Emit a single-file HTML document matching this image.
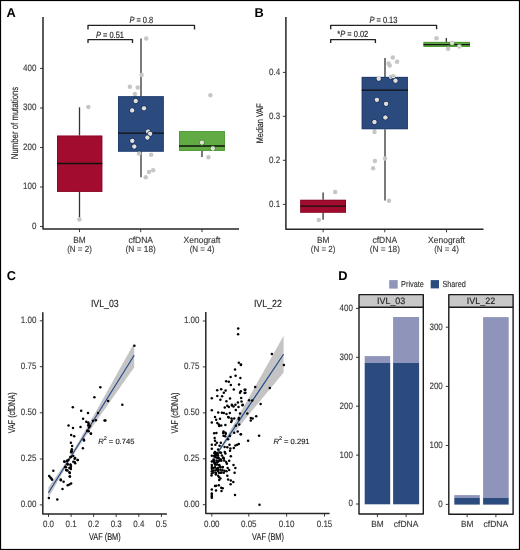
<!DOCTYPE html>
<html><head><meta charset="utf-8"><style>
html,body{margin:0;padding:0;background:#fff;}
svg{display:block;will-change:transform;font-family:"Liberation Sans", sans-serif;text-rendering:geometricPrecision;}
text{stroke-width:0.14px;}
</style></head><body>
<svg width="520" height="550" viewBox="0 0 520 550">
<rect x="0" y="0" width="520" height="550" fill="#fff"/>
<text x="6.6" y="17" font-size="12.8" fill="#000" text-anchor="start" font-weight="bold">A</text>
<text x="254.6" y="17" font-size="12.8" fill="#000" text-anchor="start" font-weight="bold">B</text>
<text x="6.8" y="279.7" font-size="12.8" fill="#000" text-anchor="start" font-weight="bold">C</text>
<text x="338.2" y="279.8" font-size="12.8" fill="#000" text-anchor="start" font-weight="bold">D</text>
<line x1="79.5" y1="107.3" x2="79.5" y2="135.6" stroke="#333" stroke-width="1.3"/>
<line x1="79.5" y1="191.9" x2="79.5" y2="217.5" stroke="#333" stroke-width="1.3"/>
<rect x="57.00" y="135.60" width="45.30" height="56.30" fill="#a20c2e"/>
<rect x="57.45" y="136.05" width="44.40" height="55.40" fill="none" stroke="#76061c" stroke-width="0.9" opacity="0.6"/>
<line x1="57" y1="163.5" x2="102.3" y2="163.5" stroke="#111" stroke-width="1.3"/>
<line x1="141.0" y1="38.6" x2="141.0" y2="96.2" stroke="#333" stroke-width="1.3"/>
<line x1="141.0" y1="151.7" x2="141.0" y2="177.3" stroke="#333" stroke-width="1.3"/>
<rect x="118.00" y="96.20" width="45.80" height="55.50" fill="#2b4a7e"/>
<rect x="118.45" y="96.65" width="44.90" height="54.60" fill="none" stroke="#1c3464" stroke-width="0.9" opacity="0.6"/>
<line x1="118" y1="133.2" x2="163.8" y2="133.2" stroke="#111" stroke-width="1.3"/>
<line x1="202.0" y1="150.9" x2="202.0" y2="156.9" stroke="#333" stroke-width="1.3"/>
<rect x="179.00" y="131.10" width="45.90" height="19.80" fill="#62aa44"/>
<rect x="179.45" y="131.55" width="45.00" height="18.90" fill="none" stroke="#3f8a2a" stroke-width="0.9" opacity="0.6"/>
<line x1="179" y1="146.0" x2="224.9" y2="146.0" stroke="#111" stroke-width="1.3"/>
<circle cx="88.40" cy="106.90" r="2.25" fill="#c6c6c6"/>
<circle cx="79.40" cy="219.60" r="2.25" fill="#c6c6c6"/>
<circle cx="146.25" cy="38.40" r="2.25" fill="#c6c6c6"/>
<circle cx="141.60" cy="75.00" r="2.25" fill="#c6c6c6"/>
<circle cx="129.90" cy="86.70" r="2.25" fill="#c6c6c6"/>
<circle cx="137.70" cy="87.40" r="2.25" fill="#c6c6c6"/>
<circle cx="134.90" cy="93.90" r="2.25" fill="#c6c6c6"/>
<circle cx="135.70" cy="101.10" r="2.25" fill="#c6c6c6"/>
<circle cx="144.00" cy="108.30" r="2.25" fill="#c6c6c6"/>
<circle cx="132.20" cy="110.40" r="2.25" fill="#c6c6c6"/>
<circle cx="148.10" cy="131.50" r="2.25" fill="#c6c6c6"/>
<circle cx="150.10" cy="133.80" r="2.25" fill="#c6c6c6"/>
<circle cx="147.40" cy="137.60" r="2.25" fill="#c6c6c6"/>
<circle cx="132.30" cy="140.80" r="2.25" fill="#c6c6c6"/>
<circle cx="134.30" cy="146.60" r="2.25" fill="#c6c6c6"/>
<circle cx="139.05" cy="153.50" r="2.25" fill="#c6c6c6"/>
<circle cx="151.20" cy="154.80" r="2.25" fill="#c6c6c6"/>
<circle cx="153.20" cy="170.30" r="2.25" fill="#c6c6c6"/>
<circle cx="149.00" cy="171.90" r="2.25" fill="#c6c6c6"/>
<circle cx="145.80" cy="177.30" r="2.25" fill="#c6c6c6"/>
<circle cx="210.40" cy="95.20" r="2.25" fill="#c6c6c6"/>
<circle cx="201.90" cy="142.60" r="2.25" fill="#c6c6c6"/>
<circle cx="212.80" cy="148.60" r="2.25" fill="#c6c6c6"/>
<circle cx="208.40" cy="157.30" r="2.25" fill="#c6c6c6"/>
<clipPath id="cb1"><rect x="118" y="96.2" width="45.80000000000001" height="55.499999999999986"/></clipPath>
<g clip-path="url(#cb1)">
<circle cx="134.90" cy="93.90" r="2.55" fill="none" stroke="#1c3464" stroke-width="0.9"/>
<circle cx="134.90" cy="93.90" r="2.1" fill="#e2dfd8"/>
<circle cx="135.70" cy="101.10" r="2.55" fill="none" stroke="#1c3464" stroke-width="0.9"/>
<circle cx="135.70" cy="101.10" r="2.1" fill="#e2dfd8"/>
<circle cx="144.00" cy="108.30" r="2.55" fill="none" stroke="#1c3464" stroke-width="0.9"/>
<circle cx="144.00" cy="108.30" r="2.1" fill="#e2dfd8"/>
<circle cx="132.20" cy="110.40" r="2.55" fill="none" stroke="#1c3464" stroke-width="0.9"/>
<circle cx="132.20" cy="110.40" r="2.1" fill="#e2dfd8"/>
<circle cx="148.10" cy="131.50" r="2.55" fill="none" stroke="#1c3464" stroke-width="0.9"/>
<circle cx="148.10" cy="131.50" r="2.1" fill="#e2dfd8"/>
<circle cx="150.10" cy="133.80" r="2.55" fill="none" stroke="#1c3464" stroke-width="0.9"/>
<circle cx="150.10" cy="133.80" r="2.1" fill="#e2dfd8"/>
<circle cx="147.40" cy="137.60" r="2.55" fill="none" stroke="#1c3464" stroke-width="0.9"/>
<circle cx="147.40" cy="137.60" r="2.1" fill="#e2dfd8"/>
<circle cx="132.30" cy="140.80" r="2.55" fill="none" stroke="#1c3464" stroke-width="0.9"/>
<circle cx="132.30" cy="140.80" r="2.1" fill="#e2dfd8"/>
<circle cx="134.30" cy="146.60" r="2.55" fill="none" stroke="#1c3464" stroke-width="0.9"/>
<circle cx="134.30" cy="146.60" r="2.1" fill="#e2dfd8"/>
<circle cx="139.05" cy="153.50" r="2.55" fill="none" stroke="#1c3464" stroke-width="0.9"/>
<circle cx="139.05" cy="153.50" r="2.1" fill="#e2dfd8"/>
</g>
<clipPath id="cb2"><rect x="179" y="131.1" width="45.900000000000006" height="19.80000000000001"/></clipPath>
<g clip-path="url(#cb2)">
<circle cx="201.90" cy="142.60" r="2.55" fill="none" stroke="#3f8a2a" stroke-width="0.9"/>
<circle cx="201.90" cy="142.60" r="2.1" fill="#e2dfd8"/>
<circle cx="212.80" cy="148.60" r="2.55" fill="none" stroke="#3f8a2a" stroke-width="0.9"/>
<circle cx="212.80" cy="148.60" r="2.1" fill="#e2dfd8"/>
</g>
<path d="M43,17 V229.05 H239" fill="none" stroke="#262626" stroke-width="1.5" stroke-linejoin="round"/>
<line x1="40" y1="226.5" x2="43" y2="226.5" stroke="#222" stroke-width="0.9"/>
<text x="36.4" y="228.95" font-size="9.4" fill="#3a3a3a" stroke="#3a3a3a" text-anchor="end" textLength="4.45" lengthAdjust="spacingAndGlyphs">0</text>
<line x1="40" y1="187.0" x2="43" y2="187.0" stroke="#222" stroke-width="0.9"/>
<text x="36.4" y="189.45" font-size="9.4" fill="#3a3a3a" stroke="#3a3a3a" text-anchor="end" textLength="13.35" lengthAdjust="spacingAndGlyphs">100</text>
<line x1="40" y1="147.5" x2="43" y2="147.5" stroke="#222" stroke-width="0.9"/>
<text x="36.4" y="149.95" font-size="9.4" fill="#3a3a3a" stroke="#3a3a3a" text-anchor="end" textLength="13.35" lengthAdjust="spacingAndGlyphs">200</text>
<line x1="40" y1="108.0" x2="43" y2="108.0" stroke="#222" stroke-width="0.9"/>
<text x="36.4" y="110.45" font-size="9.4" fill="#3a3a3a" stroke="#3a3a3a" text-anchor="end" textLength="13.35" lengthAdjust="spacingAndGlyphs">300</text>
<line x1="40" y1="68.4" x2="43" y2="68.4" stroke="#222" stroke-width="0.9"/>
<text x="36.4" y="70.85000000000001" font-size="9.4" fill="#3a3a3a" stroke="#3a3a3a" text-anchor="end" textLength="13.35" lengthAdjust="spacingAndGlyphs">400</text>
<line x1="79.5" y1="229.1" x2="79.5" y2="232.1" stroke="#222" stroke-width="0.9"/>
<text x="79.5" y="242.7" font-size="8.9" fill="#3a3a3a" stroke="#3a3a3a" text-anchor="middle" textLength="12.45" lengthAdjust="spacingAndGlyphs">BM</text>
<text x="79.5" y="251.5" font-size="8.9" fill="#3a3a3a" stroke="#3a3a3a" text-anchor="middle" textLength="24.67" lengthAdjust="spacingAndGlyphs">(N = 2)</text>
<line x1="140.7" y1="229.1" x2="140.7" y2="232.1" stroke="#222" stroke-width="0.9"/>
<text x="140.7" y="242.7" font-size="8.9" fill="#3a3a3a" stroke="#3a3a3a" text-anchor="middle" textLength="24.56" lengthAdjust="spacingAndGlyphs">cfDNA</text>
<text x="140.7" y="251.5" font-size="8.9" fill="#3a3a3a" stroke="#3a3a3a" text-anchor="middle" textLength="30.21" lengthAdjust="spacingAndGlyphs">(N = 18)</text>
<line x1="202.0" y1="229.1" x2="202.0" y2="232.1" stroke="#222" stroke-width="0.9"/>
<text x="202.0" y="242.7" font-size="8.9" fill="#3a3a3a" stroke="#3a3a3a" text-anchor="middle" textLength="36.8" lengthAdjust="spacingAndGlyphs">Xenograft</text>
<text x="202.0" y="251.5" font-size="8.9" fill="#3a3a3a" stroke="#3a3a3a" text-anchor="middle" textLength="24.67" lengthAdjust="spacingAndGlyphs">(N = 4)</text>
<path d="M88.0,43.1 V39.6 H132.5 V43.1" fill="none" stroke="#222" stroke-width="1.35" stroke-linejoin="round"/>
<path d="M88.0,29.4 V25.4 H194.5 V29.4" fill="none" stroke="#222" stroke-width="1.35" stroke-linejoin="round"/>
<text x="110" y="37.6" font-size="9" fill="#222" stroke="#222" text-anchor="middle" textLength="28.01" lengthAdjust="spacingAndGlyphs"><tspan font-style="italic">P</tspan> = 0.51</text>
<text x="141.3" y="23.2" font-size="9" fill="#222" stroke="#222" text-anchor="middle" textLength="23.84" lengthAdjust="spacingAndGlyphs"><tspan font-style="italic">P</tspan> = 0.8</text>
<text transform="translate(17.7,123) rotate(-90)" font-size="9.9" fill="#222" stroke="#222" stroke-width="0.1" text-anchor="middle" textLength="72.5" lengthAdjust="spacingAndGlyphs">Number of mutations</text>
<line x1="323.1" y1="192.5" x2="323.1" y2="199.8" stroke="#333" stroke-width="1.3"/>
<line x1="323.1" y1="212.7" x2="323.1" y2="219.7" stroke="#333" stroke-width="1.3"/>
<rect x="300.20" y="199.80" width="45.80" height="12.90" fill="#a20c2e"/>
<rect x="300.65" y="200.25" width="44.90" height="12.00" fill="none" stroke="#76061c" stroke-width="0.9" opacity="0.6"/>
<line x1="300.2" y1="206.2" x2="346" y2="206.2" stroke="#111" stroke-width="1.3"/>
<line x1="385.0" y1="58.1" x2="385.0" y2="76.9" stroke="#333" stroke-width="1.3"/>
<line x1="385.0" y1="129.2" x2="385.0" y2="200.5" stroke="#333" stroke-width="1.3"/>
<rect x="361.70" y="76.90" width="46.20" height="52.30" fill="#2b4a7e"/>
<rect x="362.15" y="77.35" width="45.30" height="51.40" fill="none" stroke="#1c3464" stroke-width="0.9" opacity="0.6"/>
<line x1="361.7" y1="90.1" x2="407.9" y2="90.1" stroke="#111" stroke-width="1.3"/>
<line x1="446.3" y1="37.9" x2="446.3" y2="41.9" stroke="#333" stroke-width="1.3"/>
<rect x="423.50" y="41.90" width="46.40" height="5.00" fill="#62aa44"/>
<rect x="423.95" y="42.35" width="45.50" height="4.10" fill="none" stroke="#3f8a2a" stroke-width="0.9" opacity="0.6"/>
<line x1="423.5" y1="44.6" x2="469.9" y2="44.6" stroke="#111" stroke-width="1.3"/>
<circle cx="335.20" cy="192.10" r="2.25" fill="#c6c6c6"/>
<circle cx="318.80" cy="220.00" r="2.25" fill="#c6c6c6"/>
<circle cx="392.80" cy="57.40" r="2.25" fill="#c6c6c6"/>
<circle cx="397.10" cy="61.80" r="2.25" fill="#c6c6c6"/>
<circle cx="388.60" cy="63.50" r="2.25" fill="#c6c6c6"/>
<circle cx="389.70" cy="65.50" r="2.25" fill="#c6c6c6"/>
<circle cx="391.00" cy="76.90" r="2.25" fill="#c6c6c6"/>
<circle cx="393.30" cy="76.20" r="2.25" fill="#c6c6c6"/>
<circle cx="378.70" cy="78.70" r="2.25" fill="#c6c6c6"/>
<circle cx="395.50" cy="80.70" r="2.25" fill="#c6c6c6"/>
<circle cx="376.90" cy="99.80" r="2.25" fill="#c6c6c6"/>
<circle cx="386.10" cy="103.80" r="2.25" fill="#c6c6c6"/>
<circle cx="385.40" cy="117.50" r="2.25" fill="#c6c6c6"/>
<circle cx="374.50" cy="122.10" r="2.25" fill="#c6c6c6"/>
<circle cx="374.50" cy="131.90" r="2.25" fill="#c6c6c6"/>
<circle cx="385.00" cy="158.50" r="2.25" fill="#c6c6c6"/>
<circle cx="374.90" cy="161.10" r="2.25" fill="#c6c6c6"/>
<circle cx="373.10" cy="168.30" r="2.25" fill="#c6c6c6"/>
<circle cx="389.00" cy="200.70" r="2.25" fill="#c6c6c6"/>
<circle cx="436.50" cy="38.20" r="2.25" fill="#c6c6c6"/>
<circle cx="452.10" cy="42.90" r="2.25" fill="#c6c6c6"/>
<circle cx="448.10" cy="48.70" r="2.25" fill="#c6c6c6"/>
<circle cx="459.40" cy="46.50" r="2.25" fill="#c6c6c6"/>
<clipPath id="cb3"><rect x="361.7" y="76.9" width="46.19999999999999" height="52.29999999999998"/></clipPath>
<g clip-path="url(#cb3)">
<circle cx="391.00" cy="76.90" r="2.55" fill="none" stroke="#1c3464" stroke-width="0.9"/>
<circle cx="391.00" cy="76.90" r="2.1" fill="#e2dfd8"/>
<circle cx="393.30" cy="76.20" r="2.55" fill="none" stroke="#1c3464" stroke-width="0.9"/>
<circle cx="393.30" cy="76.20" r="2.1" fill="#e2dfd8"/>
<circle cx="378.70" cy="78.70" r="2.55" fill="none" stroke="#1c3464" stroke-width="0.9"/>
<circle cx="378.70" cy="78.70" r="2.1" fill="#e2dfd8"/>
<circle cx="395.50" cy="80.70" r="2.55" fill="none" stroke="#1c3464" stroke-width="0.9"/>
<circle cx="395.50" cy="80.70" r="2.1" fill="#e2dfd8"/>
<circle cx="376.90" cy="99.80" r="2.55" fill="none" stroke="#1c3464" stroke-width="0.9"/>
<circle cx="376.90" cy="99.80" r="2.1" fill="#e2dfd8"/>
<circle cx="386.10" cy="103.80" r="2.55" fill="none" stroke="#1c3464" stroke-width="0.9"/>
<circle cx="386.10" cy="103.80" r="2.1" fill="#e2dfd8"/>
<circle cx="385.40" cy="117.50" r="2.55" fill="none" stroke="#1c3464" stroke-width="0.9"/>
<circle cx="385.40" cy="117.50" r="2.1" fill="#e2dfd8"/>
<circle cx="374.50" cy="122.10" r="2.55" fill="none" stroke="#1c3464" stroke-width="0.9"/>
<circle cx="374.50" cy="122.10" r="2.1" fill="#e2dfd8"/>
<circle cx="374.50" cy="131.90" r="2.55" fill="none" stroke="#1c3464" stroke-width="0.9"/>
<circle cx="374.50" cy="131.90" r="2.1" fill="#e2dfd8"/>
</g>
<clipPath id="cb4"><rect x="423.5" y="41.9" width="46.39999999999998" height="5.0"/></clipPath>
<g clip-path="url(#cb4)">
<circle cx="452.10" cy="42.90" r="2.55" fill="none" stroke="#3f8a2a" stroke-width="0.9"/>
<circle cx="452.10" cy="42.90" r="2.1" fill="#e2dfd8"/>
<circle cx="448.10" cy="48.70" r="2.55" fill="none" stroke="#3f8a2a" stroke-width="0.9"/>
<circle cx="448.10" cy="48.70" r="2.1" fill="#e2dfd8"/>
<circle cx="459.40" cy="46.50" r="2.55" fill="none" stroke="#3f8a2a" stroke-width="0.9"/>
<circle cx="459.40" cy="46.50" r="2.1" fill="#e2dfd8"/>
</g>
<path d="M285.9,17.1 V229.3 H483.5" fill="none" stroke="#262626" stroke-width="1.5" stroke-linejoin="round"/>
<line x1="282.9" y1="204.4" x2="285.9" y2="204.4" stroke="#222" stroke-width="0.9"/>
<text x="280.1" y="206.85" font-size="9.4" fill="#3a3a3a" stroke="#3a3a3a" text-anchor="end" textLength="11.12" lengthAdjust="spacingAndGlyphs">0.1</text>
<line x1="282.9" y1="160.3" x2="285.9" y2="160.3" stroke="#222" stroke-width="0.9"/>
<text x="280.1" y="162.75" font-size="9.4" fill="#3a3a3a" stroke="#3a3a3a" text-anchor="end" textLength="11.12" lengthAdjust="spacingAndGlyphs">0.2</text>
<line x1="282.9" y1="116.3" x2="285.9" y2="116.3" stroke="#222" stroke-width="0.9"/>
<text x="280.1" y="118.75" font-size="9.4" fill="#3a3a3a" stroke="#3a3a3a" text-anchor="end" textLength="11.12" lengthAdjust="spacingAndGlyphs">0.3</text>
<line x1="282.9" y1="72.4" x2="285.9" y2="72.4" stroke="#222" stroke-width="0.9"/>
<text x="280.1" y="74.85000000000001" font-size="9.4" fill="#3a3a3a" stroke="#3a3a3a" text-anchor="end" textLength="11.12" lengthAdjust="spacingAndGlyphs">0.4</text>
<line x1="323.1" y1="229.3" x2="323.1" y2="232.3" stroke="#222" stroke-width="0.9"/>
<text x="323.1" y="242.7" font-size="8.9" fill="#3a3a3a" stroke="#3a3a3a" text-anchor="middle" textLength="12.45" lengthAdjust="spacingAndGlyphs">BM</text>
<text x="323.1" y="251.5" font-size="8.9" fill="#3a3a3a" stroke="#3a3a3a" text-anchor="middle" textLength="24.67" lengthAdjust="spacingAndGlyphs">(N = 2)</text>
<line x1="384.8" y1="229.3" x2="384.8" y2="232.3" stroke="#222" stroke-width="0.9"/>
<text x="384.8" y="242.7" font-size="8.9" fill="#3a3a3a" stroke="#3a3a3a" text-anchor="middle" textLength="24.56" lengthAdjust="spacingAndGlyphs">cfDNA</text>
<text x="384.8" y="251.5" font-size="8.9" fill="#3a3a3a" stroke="#3a3a3a" text-anchor="middle" textLength="30.21" lengthAdjust="spacingAndGlyphs">(N = 18)</text>
<line x1="446.5" y1="229.3" x2="446.5" y2="232.3" stroke="#222" stroke-width="0.9"/>
<text x="446.5" y="242.7" font-size="8.9" fill="#3a3a3a" stroke="#3a3a3a" text-anchor="middle" textLength="36.8" lengthAdjust="spacingAndGlyphs">Xenograft</text>
<text x="446.5" y="251.5" font-size="8.9" fill="#3a3a3a" stroke="#3a3a3a" text-anchor="middle" textLength="24.67" lengthAdjust="spacingAndGlyphs">(N = 4)</text>
<path d="M330.7,43.1 V39.6 H375.4 V43.1" fill="none" stroke="#222" stroke-width="1.35" stroke-linejoin="round"/>
<path d="M330.7,29.3 V25.3 H436.6 V29.3" fill="none" stroke="#222" stroke-width="1.35" stroke-linejoin="round"/>
<text x="352.8" y="36.9" font-size="9" fill="#222" stroke="#222" text-anchor="middle" textLength="30.93" lengthAdjust="spacingAndGlyphs">*<tspan font-style="italic">P</tspan> = 0.02</text>
<text x="383.4" y="23.1" font-size="9" fill="#222" stroke="#222" text-anchor="middle" textLength="28.01" lengthAdjust="spacingAndGlyphs"><tspan font-style="italic">P</tspan> = 0.13</text>
<text transform="translate(263.4,123.3) rotate(-90)" font-size="9.5" fill="#222" stroke="#222" stroke-width="0.1" text-anchor="middle" textLength="40" lengthAdjust="spacingAndGlyphs">Median VAF</text>
<path d="M48.40,487.60 L49.83,485.55 L51.26,483.50 L52.69,481.45 L54.12,479.39 L55.55,477.32 L56.98,475.25 L58.41,473.17 L59.84,471.08 L61.27,468.98 L62.70,466.87 L64.13,464.74 L65.56,462.59 L66.99,460.41 L68.42,458.22 L69.85,455.99 L71.28,453.73 L72.71,451.44 L74.14,449.11 L75.57,446.76 L77.00,444.37 L78.43,441.96 L79.86,439.53 L81.29,437.08 L82.72,434.61 L84.15,432.12 L85.58,429.63 L87.01,427.13 L88.44,424.61 L89.87,422.10 L91.30,419.57 L92.73,417.04 L94.16,414.51 L95.59,411.97 L97.02,409.43 L98.45,406.89 L99.88,404.35 L101.31,401.80 L102.74,399.25 L104.17,396.70 L105.60,394.15 L107.03,391.60 L108.46,389.05 L109.89,386.49 L111.32,383.94 L112.75,381.38 L114.18,378.82 L115.61,376.27 L117.04,373.71 L118.47,371.15 L119.90,368.59 L121.33,366.03 L122.76,363.47 L124.19,360.91 L125.62,358.35 L127.05,355.79 L128.48,353.23 L129.91,350.66 L131.34,348.10 L132.77,345.54 L134.20,342.98 L134.20,367.42 L132.77,369.44 L131.34,371.46 L129.91,373.49 L128.48,375.51 L127.05,377.53 L125.62,379.55 L124.19,381.57 L122.76,383.60 L121.33,385.62 L119.90,387.64 L118.47,389.67 L117.04,391.69 L115.61,393.72 L114.18,395.74 L112.75,397.77 L111.32,399.80 L109.89,401.82 L108.46,403.85 L107.03,405.88 L105.60,407.91 L104.17,409.95 L102.74,411.98 L101.31,414.01 L99.88,416.05 L98.45,418.09 L97.02,420.13 L95.59,422.18 L94.16,424.22 L92.73,426.27 L91.30,428.33 L89.87,430.39 L88.44,432.45 L87.01,434.52 L85.58,436.60 L84.15,438.69 L82.72,440.79 L81.29,442.91 L79.86,445.04 L78.43,447.19 L77.00,449.36 L75.57,451.56 L74.14,453.79 L72.71,456.05 L71.28,458.34 L69.85,460.66 L68.42,463.02 L66.99,465.40 L65.56,467.81 L64.13,470.25 L62.70,472.70 L61.27,475.17 L59.84,477.65 L58.41,480.15 L56.98,482.65 L55.55,485.16 L54.12,487.68 L52.69,490.20 L51.26,492.73 L49.83,495.27 L48.40,497.80 Z" fill="#c4c4c4"/>
<line x1="48.4" y1="492.7" x2="134.2" y2="355.2" stroke="#24468c" stroke-width="1.15"/>
<circle cx="48.90" cy="497.90" r="1.25" fill="#000"/>
<circle cx="57.30" cy="499.60" r="1.25" fill="#000"/>
<circle cx="62.50" cy="489.00" r="1.25" fill="#000"/>
<circle cx="53.30" cy="470.80" r="1.25" fill="#000"/>
<circle cx="49.20" cy="476.00" r="1.25" fill="#000"/>
<circle cx="50.40" cy="477.50" r="1.25" fill="#000"/>
<circle cx="51.50" cy="478.80" r="1.25" fill="#000"/>
<circle cx="52.10" cy="479.80" r="1.25" fill="#000"/>
<circle cx="60.80" cy="480.20" r="1.25" fill="#000"/>
<circle cx="63.60" cy="481.70" r="1.25" fill="#000"/>
<circle cx="67.70" cy="485.20" r="1.25" fill="#000"/>
<circle cx="69.40" cy="484.40" r="1.25" fill="#000"/>
<circle cx="71.10" cy="483.40" r="1.25" fill="#000"/>
<circle cx="69.80" cy="476.50" r="1.25" fill="#000"/>
<circle cx="69.80" cy="473.10" r="1.25" fill="#000"/>
<circle cx="66.50" cy="470.20" r="1.25" fill="#000"/>
<circle cx="66.00" cy="467.30" r="1.25" fill="#000"/>
<circle cx="70.60" cy="467.90" r="1.25" fill="#000"/>
<circle cx="70.60" cy="465.00" r="1.25" fill="#000"/>
<circle cx="67.70" cy="464.40" r="1.25" fill="#000"/>
<circle cx="64.20" cy="461.50" r="1.25" fill="#000"/>
<circle cx="67.10" cy="461.00" r="1.25" fill="#000"/>
<circle cx="71.10" cy="456.90" r="1.25" fill="#000"/>
<circle cx="74.60" cy="462.10" r="1.25" fill="#000"/>
<circle cx="74.60" cy="458.70" r="1.25" fill="#000"/>
<circle cx="77.50" cy="460.10" r="1.25" fill="#000"/>
<circle cx="71.70" cy="451.20" r="1.25" fill="#000"/>
<circle cx="87.70" cy="430.50" r="1.25" fill="#000"/>
<circle cx="91.00" cy="433.70" r="1.25" fill="#000"/>
<circle cx="71.20" cy="435.00" r="1.25" fill="#000"/>
<circle cx="74.20" cy="436.30" r="1.25" fill="#000"/>
<circle cx="84.00" cy="440.60" r="1.25" fill="#000"/>
<circle cx="70.90" cy="442.70" r="1.25" fill="#000"/>
<circle cx="72.10" cy="445.90" r="1.25" fill="#000"/>
<circle cx="82.90" cy="448.30" r="1.25" fill="#000"/>
<circle cx="71.80" cy="449.20" r="1.25" fill="#000"/>
<circle cx="71.50" cy="451.00" r="1.25" fill="#000"/>
<circle cx="71.20" cy="452.30" r="1.25" fill="#000"/>
<circle cx="70.40" cy="456.90" r="1.25" fill="#000"/>
<circle cx="73.30" cy="456.00" r="1.25" fill="#000"/>
<circle cx="75.20" cy="457.90" r="1.25" fill="#000"/>
<circle cx="77.90" cy="460.00" r="1.25" fill="#000"/>
<circle cx="64.60" cy="461.70" r="1.25" fill="#000"/>
<circle cx="67.00" cy="460.80" r="1.25" fill="#000"/>
<circle cx="68.50" cy="459.80" r="1.25" fill="#000"/>
<circle cx="73.30" cy="461.70" r="1.25" fill="#000"/>
<circle cx="75.20" cy="463.20" r="1.25" fill="#000"/>
<circle cx="67.50" cy="464.10" r="1.25" fill="#000"/>
<circle cx="70.40" cy="464.60" r="1.25" fill="#000"/>
<circle cx="70.90" cy="466.50" r="1.25" fill="#000"/>
<circle cx="65.10" cy="467.00" r="1.25" fill="#000"/>
<circle cx="69.40" cy="468.00" r="1.25" fill="#000"/>
<circle cx="70.90" cy="468.90" r="1.25" fill="#000"/>
<circle cx="66.10" cy="469.90" r="1.25" fill="#000"/>
<circle cx="67.50" cy="470.40" r="1.25" fill="#000"/>
<circle cx="69.40" cy="472.30" r="1.25" fill="#000"/>
<circle cx="69.90" cy="476.60" r="1.25" fill="#000"/>
<circle cx="60.80" cy="479.50" r="1.25" fill="#000"/>
<circle cx="94.40" cy="397.20" r="1.25" fill="#000"/>
<circle cx="72.80" cy="407.30" r="1.25" fill="#000"/>
<circle cx="81.20" cy="410.70" r="1.25" fill="#000"/>
<circle cx="88.00" cy="413.10" r="1.25" fill="#000"/>
<circle cx="98.00" cy="412.90" r="1.25" fill="#000"/>
<circle cx="83.10" cy="418.80" r="1.25" fill="#000"/>
<circle cx="93.00" cy="420.80" r="1.25" fill="#000"/>
<circle cx="95.90" cy="420.30" r="1.25" fill="#000"/>
<circle cx="104.50" cy="420.60" r="1.25" fill="#000"/>
<circle cx="86.25" cy="421.70" r="1.25" fill="#000"/>
<circle cx="88.20" cy="422.50" r="1.25" fill="#000"/>
<circle cx="88.70" cy="424.10" r="1.25" fill="#000"/>
<circle cx="88.20" cy="425.60" r="1.25" fill="#000"/>
<circle cx="90.10" cy="426.10" r="1.25" fill="#000"/>
<circle cx="89.10" cy="427.50" r="1.25" fill="#000"/>
<circle cx="68.50" cy="425.60" r="1.25" fill="#000"/>
<circle cx="73.00" cy="428.00" r="1.25" fill="#000"/>
<circle cx="80.50" cy="427.00" r="1.25" fill="#000"/>
<circle cx="87.20" cy="430.90" r="1.25" fill="#000"/>
<circle cx="88.70" cy="431.30" r="1.25" fill="#000"/>
<circle cx="90.80" cy="433.50" r="1.25" fill="#000"/>
<circle cx="83.80" cy="439.50" r="1.25" fill="#000"/>
<circle cx="134.40" cy="345.80" r="1.25" fill="#000"/>
<circle cx="100.30" cy="387.30" r="1.25" fill="#000"/>
<circle cx="108.10" cy="401.00" r="1.25" fill="#000"/>
<circle cx="122.30" cy="404.70" r="1.25" fill="#000"/>
<circle cx="105.40" cy="420.50" r="1.25" fill="#000"/>
<path d="M42.8,312.3 V513.9 H166.9" fill="none" stroke="#262626" stroke-width="1.5" stroke-linejoin="round"/>
<line x1="39.8" y1="504.9" x2="42.8" y2="504.9" stroke="#222" stroke-width="0.9"/>
<text x="36.4" y="507.34999999999997" font-size="9.4" fill="#3a3a3a" stroke="#3a3a3a" text-anchor="end" textLength="15.57" lengthAdjust="spacingAndGlyphs">0.00</text>
<line x1="39.8" y1="459.0" x2="42.8" y2="459.0" stroke="#222" stroke-width="0.9"/>
<text x="36.4" y="461.45" font-size="9.4" fill="#3a3a3a" stroke="#3a3a3a" text-anchor="end" textLength="15.57" lengthAdjust="spacingAndGlyphs">0.25</text>
<line x1="39.8" y1="412.8" x2="42.8" y2="412.8" stroke="#222" stroke-width="0.9"/>
<text x="36.4" y="415.25" font-size="9.4" fill="#3a3a3a" stroke="#3a3a3a" text-anchor="end" textLength="15.57" lengthAdjust="spacingAndGlyphs">0.50</text>
<line x1="39.8" y1="366.7" x2="42.8" y2="366.7" stroke="#222" stroke-width="0.9"/>
<text x="36.4" y="369.15" font-size="9.4" fill="#3a3a3a" stroke="#3a3a3a" text-anchor="end" textLength="15.57" lengthAdjust="spacingAndGlyphs">0.75</text>
<line x1="39.8" y1="320.8" x2="42.8" y2="320.8" stroke="#222" stroke-width="0.9"/>
<text x="36.4" y="323.25" font-size="9.4" fill="#3a3a3a" stroke="#3a3a3a" text-anchor="end" textLength="15.57" lengthAdjust="spacingAndGlyphs">1.00</text>
<line x1="48.5" y1="513.9" x2="48.5" y2="516.9" stroke="#222" stroke-width="0.9"/>
<text x="48.5" y="527.0" font-size="9.4" fill="#3a3a3a" stroke="#3a3a3a" text-anchor="middle" textLength="11.12" lengthAdjust="spacingAndGlyphs">0.0</text>
<line x1="71.1" y1="513.9" x2="71.1" y2="516.9" stroke="#222" stroke-width="0.9"/>
<text x="71.1" y="527.0" font-size="9.4" fill="#3a3a3a" stroke="#3a3a3a" text-anchor="middle" textLength="11.12" lengthAdjust="spacingAndGlyphs">0.1</text>
<line x1="93.6" y1="513.9" x2="93.6" y2="516.9" stroke="#222" stroke-width="0.9"/>
<text x="93.6" y="527.0" font-size="9.4" fill="#3a3a3a" stroke="#3a3a3a" text-anchor="middle" textLength="11.12" lengthAdjust="spacingAndGlyphs">0.2</text>
<line x1="116.2" y1="513.9" x2="116.2" y2="516.9" stroke="#222" stroke-width="0.9"/>
<text x="116.2" y="527.0" font-size="9.4" fill="#3a3a3a" stroke="#3a3a3a" text-anchor="middle" textLength="11.12" lengthAdjust="spacingAndGlyphs">0.3</text>
<line x1="138.8" y1="513.9" x2="138.8" y2="516.9" stroke="#222" stroke-width="0.9"/>
<text x="138.8" y="527.0" font-size="9.4" fill="#3a3a3a" stroke="#3a3a3a" text-anchor="middle" textLength="11.12" lengthAdjust="spacingAndGlyphs">0.4</text>
<line x1="161.4" y1="513.9" x2="161.4" y2="516.9" stroke="#222" stroke-width="0.9"/>
<text x="161.4" y="527.0" font-size="9.4" fill="#3a3a3a" stroke="#3a3a3a" text-anchor="middle" textLength="11.12" lengthAdjust="spacingAndGlyphs">0.5</text>
<text x="104.8" y="540.3" font-size="9.9" fill="#222" stroke="#222" text-anchor="middle" textLength="31.8" lengthAdjust="spacingAndGlyphs">VAF (BM)</text>
<text transform="translate(15.4,412.8) rotate(-90)" font-size="9.8" fill="#222" stroke="#222" stroke-width="0.1" text-anchor="middle" textLength="41" lengthAdjust="spacingAndGlyphs">VAF (cfDNA)</text>
<text x="104.8" y="306.8" font-size="10.3" fill="#222" stroke="#222" text-anchor="middle" textLength="27.8" lengthAdjust="spacingAndGlyphs">IVL_03</text>
<text x="98.2" y="443.75" font-size="7.6" fill="#222" stroke="#222" text-anchor="start"><tspan font-style="italic">R</tspan><tspan font-size="5.5" dy="-3.6">2</tspan><tspan dy="3.6"> = 0.745</tspan></text>
<path d="M211.90,458.25 L213.09,456.73 L214.29,455.20 L215.49,453.63 L216.68,452.03 L217.88,450.38 L219.07,448.68 L220.27,446.92 L221.46,445.08 L222.66,443.19 L223.85,441.25 L225.05,439.27 L226.24,437.26 L227.44,435.22 L228.63,433.16 L229.83,431.10 L231.02,429.02 L232.22,426.93 L233.41,424.84 L234.61,422.74 L235.80,420.64 L237.00,418.53 L238.19,416.43 L239.39,414.32 L240.58,412.21 L241.78,410.09 L242.97,407.98 L244.17,405.86 L245.36,403.74 L246.56,401.63 L247.75,399.51 L248.95,397.39 L250.14,395.27 L251.34,393.15 L252.53,391.03 L253.73,388.91 L254.92,386.78 L256.12,384.66 L257.31,382.54 L258.50,380.42 L259.70,378.29 L260.90,376.17 L262.09,374.05 L263.29,371.92 L264.48,369.80 L265.68,367.67 L266.87,365.55 L268.06,363.42 L269.26,361.30 L270.46,359.17 L271.65,357.05 L272.85,354.92 L274.04,352.80 L275.24,350.67 L276.43,348.55 L277.62,346.42 L278.82,344.30 L280.02,342.17 L281.21,340.05 L282.41,337.92 L283.60,335.79 L283.60,372.61 L282.41,374.05 L281.21,375.49 L280.02,376.93 L278.82,378.37 L277.62,379.81 L276.43,381.25 L275.24,382.69 L274.04,384.13 L272.85,385.58 L271.65,387.02 L270.46,388.46 L269.26,389.90 L268.06,391.34 L266.87,392.78 L265.68,394.23 L264.48,395.67 L263.29,397.11 L262.09,398.55 L260.90,400.00 L259.70,401.44 L258.50,402.88 L257.31,404.33 L256.12,405.77 L254.92,407.22 L253.73,408.66 L252.53,410.11 L251.34,411.55 L250.14,413.00 L248.95,414.44 L247.75,415.89 L246.56,417.34 L245.36,418.79 L244.17,420.24 L242.97,421.69 L241.78,423.14 L240.58,424.59 L239.39,426.05 L238.19,427.51 L237.00,428.97 L235.80,430.43 L234.61,431.89 L233.41,433.36 L232.22,434.84 L231.02,436.32 L229.83,437.80 L228.63,439.30 L227.44,440.81 L226.24,442.34 L225.05,443.90 L223.85,445.48 L222.66,447.11 L221.46,448.78 L220.27,450.52 L219.07,452.32 L217.88,454.18 L216.68,456.10 L215.49,458.07 L214.29,460.07 L213.09,462.10 L211.90,464.15 Z" fill="#c4c4c4"/>
<line x1="211.9" y1="461.2" x2="283.6" y2="354.2" stroke="#24468c" stroke-width="1.15"/>
<circle cx="238.20" cy="328.50" r="1.25" fill="#000"/>
<circle cx="238.10" cy="334.20" r="1.25" fill="#000"/>
<circle cx="238.80" cy="362.80" r="1.25" fill="#000"/>
<circle cx="241.00" cy="364.40" r="1.25" fill="#000"/>
<circle cx="235.00" cy="369.40" r="1.25" fill="#000"/>
<circle cx="271.90" cy="353.90" r="1.25" fill="#000"/>
<circle cx="283.90" cy="364.90" r="1.25" fill="#000"/>
<circle cx="240.80" cy="365.00" r="1.25" fill="#000"/>
<circle cx="235.60" cy="375.80" r="1.25" fill="#000"/>
<circle cx="230.60" cy="377.10" r="1.25" fill="#000"/>
<circle cx="240.40" cy="377.90" r="1.25" fill="#000"/>
<circle cx="226.20" cy="381.30" r="1.25" fill="#000"/>
<circle cx="228.80" cy="381.80" r="1.25" fill="#000"/>
<circle cx="230.80" cy="385.00" r="1.25" fill="#000"/>
<circle cx="239.00" cy="384.60" r="1.25" fill="#000"/>
<circle cx="217.20" cy="390.20" r="1.25" fill="#000"/>
<circle cx="221.20" cy="389.20" r="1.25" fill="#000"/>
<circle cx="225.60" cy="390.40" r="1.25" fill="#000"/>
<circle cx="223.80" cy="392.70" r="1.25" fill="#000"/>
<circle cx="233.80" cy="389.60" r="1.25" fill="#000"/>
<circle cx="240.80" cy="391.20" r="1.25" fill="#000"/>
<circle cx="240.00" cy="392.70" r="1.25" fill="#000"/>
<circle cx="244.60" cy="389.80" r="1.25" fill="#000"/>
<circle cx="244.60" cy="393.10" r="1.25" fill="#000"/>
<circle cx="217.30" cy="395.90" r="1.25" fill="#000"/>
<circle cx="222.10" cy="396.30" r="1.25" fill="#000"/>
<circle cx="211.80" cy="398.20" r="1.25" fill="#000"/>
<circle cx="220.40" cy="399.80" r="1.25" fill="#000"/>
<circle cx="230.00" cy="398.50" r="1.25" fill="#000"/>
<circle cx="241.20" cy="397.90" r="1.25" fill="#000"/>
<circle cx="226.40" cy="401.20" r="1.25" fill="#000"/>
<circle cx="237.90" cy="402.50" r="1.25" fill="#000"/>
<circle cx="241.50" cy="401.50" r="1.25" fill="#000"/>
<circle cx="231.90" cy="404.80" r="1.25" fill="#000"/>
<circle cx="235.40" cy="404.80" r="1.25" fill="#000"/>
<circle cx="242.70" cy="404.80" r="1.25" fill="#000"/>
<circle cx="255.20" cy="386.90" r="1.25" fill="#000"/>
<circle cx="269.80" cy="387.90" r="1.25" fill="#000"/>
<circle cx="245.40" cy="389.80" r="1.25" fill="#000"/>
<circle cx="245.40" cy="392.80" r="1.25" fill="#000"/>
<circle cx="249.10" cy="400.20" r="1.25" fill="#000"/>
<circle cx="252.20" cy="400.50" r="1.25" fill="#000"/>
<circle cx="260.60" cy="404.10" r="1.25" fill="#000"/>
<circle cx="242.50" cy="405.20" r="1.25" fill="#000"/>
<circle cx="224.80" cy="407.50" r="1.25" fill="#000"/>
<circle cx="227.30" cy="405.80" r="1.25" fill="#000"/>
<circle cx="228.80" cy="406.90" r="1.25" fill="#000"/>
<circle cx="231.90" cy="405.40" r="1.25" fill="#000"/>
<circle cx="233.50" cy="406.50" r="1.25" fill="#000"/>
<circle cx="238.50" cy="407.10" r="1.25" fill="#000"/>
<circle cx="235.80" cy="410.00" r="1.25" fill="#000"/>
<circle cx="211.80" cy="410.20" r="1.25" fill="#000"/>
<circle cx="218.20" cy="412.50" r="1.25" fill="#000"/>
<circle cx="221.90" cy="412.70" r="1.25" fill="#000"/>
<circle cx="223.80" cy="412.90" r="1.25" fill="#000"/>
<circle cx="226.50" cy="414.00" r="1.25" fill="#000"/>
<circle cx="229.80" cy="413.10" r="1.25" fill="#000"/>
<circle cx="240.00" cy="413.50" r="1.25" fill="#000"/>
<circle cx="215.00" cy="416.90" r="1.25" fill="#000"/>
<circle cx="220.00" cy="418.80" r="1.25" fill="#000"/>
<circle cx="228.10" cy="416.90" r="1.25" fill="#000"/>
<circle cx="228.80" cy="417.50" r="1.25" fill="#000"/>
<circle cx="231.50" cy="418.50" r="1.25" fill="#000"/>
<circle cx="234.20" cy="418.50" r="1.25" fill="#000"/>
<circle cx="238.80" cy="418.10" r="1.25" fill="#000"/>
<circle cx="216.20" cy="419.80" r="1.25" fill="#000"/>
<circle cx="231.90" cy="420.40" r="1.25" fill="#000"/>
<circle cx="238.80" cy="419.60" r="1.25" fill="#000"/>
<circle cx="231.20" cy="421.90" r="1.25" fill="#000"/>
<circle cx="211.80" cy="422.50" r="1.25" fill="#000"/>
<circle cx="217.30" cy="423.10" r="1.25" fill="#000"/>
<circle cx="218.80" cy="424.50" r="1.25" fill="#000"/>
<circle cx="219.20" cy="426.00" r="1.25" fill="#000"/>
<circle cx="221.20" cy="425.40" r="1.25" fill="#000"/>
<circle cx="225.40" cy="425.00" r="1.25" fill="#000"/>
<circle cx="239.20" cy="424.50" r="1.25" fill="#000"/>
<circle cx="235.80" cy="425.80" r="1.25" fill="#000"/>
<circle cx="214.20" cy="433.20" r="1.25" fill="#000"/>
<circle cx="216.40" cy="432.90" r="1.25" fill="#000"/>
<circle cx="223.50" cy="431.50" r="1.25" fill="#000"/>
<circle cx="223.10" cy="432.90" r="1.25" fill="#000"/>
<circle cx="225.40" cy="432.70" r="1.25" fill="#000"/>
<circle cx="225.80" cy="433.80" r="1.25" fill="#000"/>
<circle cx="234.20" cy="432.70" r="1.25" fill="#000"/>
<circle cx="237.70" cy="431.50" r="1.25" fill="#000"/>
<circle cx="240.80" cy="434.20" r="1.25" fill="#000"/>
<circle cx="223.50" cy="435.80" r="1.25" fill="#000"/>
<circle cx="225.20" cy="436.20" r="1.25" fill="#000"/>
<circle cx="230.00" cy="436.00" r="1.25" fill="#000"/>
<circle cx="214.60" cy="438.10" r="1.25" fill="#000"/>
<circle cx="228.10" cy="439.20" r="1.25" fill="#000"/>
<circle cx="247.30" cy="413.50" r="1.25" fill="#000"/>
<circle cx="256.20" cy="416.30" r="1.25" fill="#000"/>
<circle cx="250.80" cy="418.10" r="1.25" fill="#000"/>
<circle cx="252.70" cy="418.50" r="1.25" fill="#000"/>
<circle cx="250.80" cy="420.40" r="1.25" fill="#000"/>
<circle cx="240.80" cy="434.20" r="1.25" fill="#000"/>
<circle cx="259.10" cy="435.80" r="1.25" fill="#000"/>
<circle cx="248.10" cy="440.80" r="1.25" fill="#000"/>
<circle cx="215.00" cy="440.80" r="1.25" fill="#000"/>
<circle cx="216.90" cy="442.70" r="1.25" fill="#000"/>
<circle cx="220.80" cy="442.70" r="1.25" fill="#000"/>
<circle cx="211.80" cy="444.80" r="1.25" fill="#000"/>
<circle cx="215.40" cy="444.80" r="1.25" fill="#000"/>
<circle cx="219.60" cy="445.80" r="1.25" fill="#000"/>
<circle cx="229.50" cy="444.80" r="1.25" fill="#000"/>
<circle cx="235.40" cy="445.40" r="1.25" fill="#000"/>
<circle cx="237.20" cy="444.80" r="1.25" fill="#000"/>
<circle cx="238.80" cy="444.10" r="1.25" fill="#000"/>
<circle cx="224.60" cy="446.90" r="1.25" fill="#000"/>
<circle cx="227.30" cy="447.20" r="1.25" fill="#000"/>
<circle cx="230.40" cy="448.50" r="1.25" fill="#000"/>
<circle cx="233.80" cy="448.10" r="1.25" fill="#000"/>
<circle cx="211.80" cy="448.70" r="1.25" fill="#000"/>
<circle cx="230.00" cy="450.80" r="1.25" fill="#000"/>
<circle cx="218.10" cy="449.60" r="1.25" fill="#000"/>
<circle cx="215.00" cy="451.90" r="1.25" fill="#000"/>
<circle cx="216.50" cy="453.10" r="1.25" fill="#000"/>
<circle cx="217.70" cy="453.80" r="1.25" fill="#000"/>
<circle cx="225.40" cy="453.50" r="1.25" fill="#000"/>
<circle cx="211.80" cy="455.80" r="1.25" fill="#000"/>
<circle cx="216.50" cy="455.00" r="1.25" fill="#000"/>
<circle cx="218.10" cy="455.80" r="1.25" fill="#000"/>
<circle cx="221.90" cy="455.40" r="1.25" fill="#000"/>
<circle cx="230.80" cy="456.20" r="1.25" fill="#000"/>
<circle cx="215.80" cy="457.30" r="1.25" fill="#000"/>
<circle cx="217.30" cy="458.10" r="1.25" fill="#000"/>
<circle cx="223.10" cy="457.70" r="1.25" fill="#000"/>
<circle cx="223.80" cy="458.50" r="1.25" fill="#000"/>
<circle cx="213.80" cy="460.00" r="1.25" fill="#000"/>
<circle cx="211.80" cy="461.50" r="1.25" fill="#000"/>
<circle cx="216.50" cy="460.40" r="1.25" fill="#000"/>
<circle cx="218.50" cy="461.20" r="1.25" fill="#000"/>
<circle cx="224.20" cy="460.40" r="1.25" fill="#000"/>
<circle cx="229.20" cy="460.80" r="1.25" fill="#000"/>
<circle cx="215.40" cy="462.70" r="1.25" fill="#000"/>
<circle cx="217.30" cy="462.30" r="1.25" fill="#000"/>
<circle cx="226.20" cy="461.90" r="1.25" fill="#000"/>
<circle cx="226.90" cy="463.80" r="1.25" fill="#000"/>
<circle cx="211.80" cy="465.00" r="1.25" fill="#000"/>
<circle cx="215.00" cy="464.60" r="1.25" fill="#000"/>
<circle cx="219.20" cy="465.00" r="1.25" fill="#000"/>
<circle cx="233.50" cy="465.00" r="1.25" fill="#000"/>
<circle cx="211.80" cy="466.90" r="1.25" fill="#000"/>
<circle cx="211.80" cy="468.80" r="1.25" fill="#000"/>
<circle cx="211.80" cy="471.20" r="1.25" fill="#000"/>
<circle cx="211.80" cy="473.50" r="1.25" fill="#000"/>
<circle cx="213.50" cy="468.10" r="1.25" fill="#000"/>
<circle cx="215.00" cy="467.30" r="1.25" fill="#000"/>
<circle cx="216.50" cy="468.80" r="1.25" fill="#000"/>
<circle cx="218.10" cy="468.10" r="1.25" fill="#000"/>
<circle cx="219.60" cy="465.80" r="1.25" fill="#000"/>
<circle cx="220.40" cy="467.30" r="1.25" fill="#000"/>
<circle cx="222.70" cy="467.30" r="1.25" fill="#000"/>
<circle cx="227.70" cy="468.10" r="1.25" fill="#000"/>
<circle cx="235.40" cy="468.10" r="1.25" fill="#000"/>
<circle cx="229.20" cy="470.00" r="1.25" fill="#000"/>
<circle cx="234.60" cy="472.70" r="1.25" fill="#000"/>
<circle cx="213.50" cy="470.50" r="1.25" fill="#000"/>
<circle cx="215.50" cy="470.50" r="1.25" fill="#000"/>
<circle cx="218.00" cy="471.00" r="1.25" fill="#000"/>
<circle cx="220.50" cy="469.80" r="1.25" fill="#000"/>
<circle cx="222.50" cy="470.30" r="1.25" fill="#000"/>
<circle cx="224.50" cy="470.80" r="1.25" fill="#000"/>
<circle cx="226.50" cy="471.20" r="1.25" fill="#000"/>
<circle cx="213.50" cy="472.60" r="1.25" fill="#000"/>
<circle cx="216.00" cy="473.00" r="1.25" fill="#000"/>
<circle cx="219.00" cy="472.80" r="1.25" fill="#000"/>
<circle cx="221.50" cy="472.40" r="1.25" fill="#000"/>
<circle cx="223.80" cy="472.70" r="1.25" fill="#000"/>
<circle cx="211.50" cy="475.40" r="1.25" fill="#000"/>
<circle cx="215.80" cy="474.60" r="1.25" fill="#000"/>
<circle cx="218.10" cy="475.80" r="1.25" fill="#000"/>
<circle cx="219.20" cy="477.30" r="1.25" fill="#000"/>
<circle cx="220.40" cy="478.50" r="1.25" fill="#000"/>
<circle cx="219.20" cy="480.00" r="1.25" fill="#000"/>
<circle cx="227.30" cy="475.80" r="1.25" fill="#000"/>
<circle cx="228.10" cy="479.40" r="1.25" fill="#000"/>
<circle cx="230.80" cy="480.40" r="1.25" fill="#000"/>
<circle cx="233.30" cy="481.90" r="1.25" fill="#000"/>
<circle cx="230.60" cy="484.20" r="1.25" fill="#000"/>
<circle cx="215.00" cy="486.00" r="1.25" fill="#000"/>
<circle cx="216.20" cy="485.80" r="1.25" fill="#000"/>
<circle cx="218.80" cy="485.20" r="1.25" fill="#000"/>
<circle cx="221.20" cy="487.70" r="1.25" fill="#000"/>
<circle cx="222.70" cy="488.30" r="1.25" fill="#000"/>
<circle cx="211.80" cy="489.40" r="1.25" fill="#000"/>
<circle cx="216.00" cy="490.40" r="1.25" fill="#000"/>
<circle cx="221.50" cy="490.90" r="1.25" fill="#000"/>
<circle cx="211.80" cy="493.50" r="1.25" fill="#000"/>
<circle cx="211.80" cy="495.00" r="1.25" fill="#000"/>
<circle cx="211.80" cy="496.50" r="1.25" fill="#000"/>
<circle cx="211.80" cy="497.80" r="1.25" fill="#000"/>
<circle cx="235.00" cy="495.00" r="1.25" fill="#000"/>
<circle cx="259.50" cy="504.70" r="1.25" fill="#000"/>
<circle cx="217.22" cy="454.47" r="1.25" fill="#000"/>
<circle cx="220.99" cy="452.67" r="1.25" fill="#000"/>
<circle cx="219.66" cy="459.41" r="1.25" fill="#000"/>
<circle cx="214.17" cy="462.67" r="1.25" fill="#000"/>
<circle cx="213.93" cy="460.97" r="1.25" fill="#000"/>
<circle cx="214.30" cy="453.09" r="1.25" fill="#000"/>
<circle cx="218.38" cy="470.02" r="1.25" fill="#000"/>
<circle cx="214.92" cy="456.13" r="1.25" fill="#000"/>
<circle cx="220.72" cy="472.80" r="1.25" fill="#000"/>
<circle cx="220.14" cy="460.12" r="1.25" fill="#000"/>
<circle cx="224.73" cy="452.07" r="1.25" fill="#000"/>
<circle cx="223.37" cy="457.66" r="1.25" fill="#000"/>
<circle cx="215.16" cy="453.71" r="1.25" fill="#000"/>
<circle cx="217.05" cy="469.77" r="1.25" fill="#000"/>
<circle cx="215.58" cy="464.38" r="1.25" fill="#000"/>
<circle cx="220.85" cy="459.57" r="1.25" fill="#000"/>
<circle cx="219.80" cy="452.44" r="1.25" fill="#000"/>
<circle cx="214.19" cy="455.74" r="1.25" fill="#000"/>
<circle cx="221.32" cy="460.83" r="1.25" fill="#000"/>
<circle cx="217.11" cy="464.47" r="1.25" fill="#000"/>
<circle cx="218.71" cy="457.89" r="1.25" fill="#000"/>
<circle cx="222.64" cy="467.08" r="1.25" fill="#000"/>
<path d="M205.8,312.1 V513.6 H329.6" fill="none" stroke="#262626" stroke-width="1.5" stroke-linejoin="round"/>
<line x1="202.8" y1="504.7" x2="205.8" y2="504.7" stroke="#222" stroke-width="0.9"/>
<text x="199.5" y="507.15" font-size="9.4" fill="#3a3a3a" stroke="#3a3a3a" text-anchor="end" textLength="15.57" lengthAdjust="spacingAndGlyphs">0.00</text>
<line x1="202.8" y1="458.8" x2="205.8" y2="458.8" stroke="#222" stroke-width="0.9"/>
<text x="199.5" y="461.25" font-size="9.4" fill="#3a3a3a" stroke="#3a3a3a" text-anchor="end" textLength="15.57" lengthAdjust="spacingAndGlyphs">0.25</text>
<line x1="202.8" y1="412.9" x2="205.8" y2="412.9" stroke="#222" stroke-width="0.9"/>
<text x="199.5" y="415.34999999999997" font-size="9.4" fill="#3a3a3a" stroke="#3a3a3a" text-anchor="end" textLength="15.57" lengthAdjust="spacingAndGlyphs">0.50</text>
<line x1="202.8" y1="366.9" x2="205.8" y2="366.9" stroke="#222" stroke-width="0.9"/>
<text x="199.5" y="369.34999999999997" font-size="9.4" fill="#3a3a3a" stroke="#3a3a3a" text-anchor="end" textLength="15.57" lengthAdjust="spacingAndGlyphs">0.75</text>
<line x1="202.8" y1="321.0" x2="205.8" y2="321.0" stroke="#222" stroke-width="0.9"/>
<text x="199.5" y="323.45" font-size="9.4" fill="#3a3a3a" stroke="#3a3a3a" text-anchor="end" textLength="15.57" lengthAdjust="spacingAndGlyphs">1.00</text>
<line x1="211.8" y1="513.6" x2="211.8" y2="516.6" stroke="#222" stroke-width="0.9"/>
<text x="211.8" y="527.0" font-size="9.4" fill="#3a3a3a" stroke="#3a3a3a" text-anchor="middle" textLength="15.57" lengthAdjust="spacingAndGlyphs">0.00</text>
<line x1="248.8" y1="513.6" x2="248.8" y2="516.6" stroke="#222" stroke-width="0.9"/>
<text x="248.8" y="527.0" font-size="9.4" fill="#3a3a3a" stroke="#3a3a3a" text-anchor="middle" textLength="15.57" lengthAdjust="spacingAndGlyphs">0.05</text>
<line x1="286.6" y1="513.6" x2="286.6" y2="516.6" stroke="#222" stroke-width="0.9"/>
<text x="286.6" y="527.0" font-size="9.4" fill="#3a3a3a" stroke="#3a3a3a" text-anchor="middle" textLength="15.57" lengthAdjust="spacingAndGlyphs">0.10</text>
<line x1="324.5" y1="513.6" x2="324.5" y2="516.6" stroke="#222" stroke-width="0.9"/>
<text x="324.5" y="527.0" font-size="9.4" fill="#3a3a3a" stroke="#3a3a3a" text-anchor="middle" textLength="15.57" lengthAdjust="spacingAndGlyphs">0.15</text>
<text x="268" y="540.3" font-size="9.9" fill="#222" stroke="#222" text-anchor="middle" textLength="31.8" lengthAdjust="spacingAndGlyphs">VAF (BM)</text>
<text transform="translate(177.7,413) rotate(-90)" font-size="9.8" fill="#222" stroke="#222" stroke-width="0.1" text-anchor="middle" textLength="41" lengthAdjust="spacingAndGlyphs">VAF (cfDNA)</text>
<text x="267.9" y="306.9" font-size="10.3" fill="#222" stroke="#222" text-anchor="middle" textLength="28" lengthAdjust="spacingAndGlyphs">IVL_22</text>
<text x="273.4" y="443.75" font-size="7.6" fill="#222" stroke="#222" text-anchor="start"><tspan font-style="italic">R</tspan><tspan font-size="5.5" dy="-3.6">2</tspan><tspan dy="3.6"> = 0.291</tspan></text>
<rect x="389.20" y="280.10" width="8.50" height="8.50" fill="#8f94bb"/>
<text x="401.1" y="287.0" font-size="8.7" fill="#333" stroke="#333" text-anchor="start" textLength="22.8" lengthAdjust="spacingAndGlyphs">Private</text>
<rect x="430.70" y="280.10" width="8.30" height="8.30" fill="#2b4a7e"/>
<text x="442.4" y="287.0" font-size="8.7" fill="#333" stroke="#333" text-anchor="start" textLength="23.5" lengthAdjust="spacingAndGlyphs">Shared</text>
<rect x="359.00" y="294.60" width="64.30" height="12.70" fill="#c8c8c8"/>
<text x="391.15" y="303.90000000000003" font-size="9.2" fill="#222" stroke="#222" text-anchor="middle" textLength="28.3" lengthAdjust="spacingAndGlyphs">IVL_03</text>
<rect x="364.70" y="356.10" width="25.50" height="6.90" fill="#8f94bb"/>
<rect x="364.70" y="363.00" width="25.50" height="141.30" fill="#2b4a7e"/>
<rect x="393.10" y="317.00" width="26.00" height="46.00" fill="#8f94bb"/>
<rect x="393.10" y="363.00" width="26.00" height="141.30" fill="#2b4a7e"/>
<rect x="359.0" y="294.6" width="64.30000000000001" height="219.39999999999998" fill="none" stroke="#1a1a1a" stroke-width="1.4" stroke-linejoin="round"/>
<line x1="359.0" y1="307.3" x2="423.3" y2="307.3" stroke="#1a1a1a" stroke-width="1.4"/>
<line x1="356.0" y1="504.0" x2="359.0" y2="504.0" stroke="#222" stroke-width="0.9"/>
<text x="352.9" y="506.45" font-size="9.4" fill="#3a3a3a" stroke="#3a3a3a" text-anchor="end" textLength="4.45" lengthAdjust="spacingAndGlyphs">0</text>
<line x1="356.0" y1="455.1" x2="359.0" y2="455.1" stroke="#222" stroke-width="0.9"/>
<text x="352.9" y="457.55" font-size="9.4" fill="#3a3a3a" stroke="#3a3a3a" text-anchor="end" textLength="13.35" lengthAdjust="spacingAndGlyphs">100</text>
<line x1="356.0" y1="406.2" x2="359.0" y2="406.2" stroke="#222" stroke-width="0.9"/>
<text x="352.9" y="408.65" font-size="9.4" fill="#3a3a3a" stroke="#3a3a3a" text-anchor="end" textLength="13.35" lengthAdjust="spacingAndGlyphs">200</text>
<line x1="356.0" y1="357.3" x2="359.0" y2="357.3" stroke="#222" stroke-width="0.9"/>
<text x="352.9" y="359.75" font-size="9.4" fill="#3a3a3a" stroke="#3a3a3a" text-anchor="end" textLength="13.35" lengthAdjust="spacingAndGlyphs">300</text>
<line x1="356.0" y1="308.4" x2="359.0" y2="308.4" stroke="#222" stroke-width="0.9"/>
<text x="352.9" y="310.84999999999997" font-size="9.4" fill="#3a3a3a" stroke="#3a3a3a" text-anchor="end" textLength="13.35" lengthAdjust="spacingAndGlyphs">400</text>
<line x1="377.4" y1="514.0" x2="377.4" y2="517.0" stroke="#222" stroke-width="0.9"/>
<text x="377.4" y="527.1" font-size="8.9" fill="#3a3a3a" stroke="#3a3a3a" text-anchor="middle" textLength="12.45" lengthAdjust="spacingAndGlyphs">BM</text>
<line x1="406.1" y1="514.0" x2="406.1" y2="517.0" stroke="#222" stroke-width="0.9"/>
<text x="406.1" y="527.1" font-size="8.9" fill="#3a3a3a" stroke="#3a3a3a" text-anchor="middle" textLength="24.56" lengthAdjust="spacingAndGlyphs">cfDNA</text>
<rect x="448.80" y="294.60" width="64.30" height="12.70" fill="#c8c8c8"/>
<text x="480.95000000000005" y="303.90000000000003" font-size="9.2" fill="#222" stroke="#222" text-anchor="middle" textLength="28.3" lengthAdjust="spacingAndGlyphs">IVL_22</text>
<rect x="454.30" y="495.10" width="25.50" height="2.70" fill="#8f94bb"/>
<rect x="454.30" y="497.80" width="25.50" height="6.80" fill="#2b4a7e"/>
<rect x="483.10" y="317.10" width="25.60" height="180.70" fill="#8f94bb"/>
<rect x="483.10" y="497.80" width="25.60" height="6.80" fill="#2b4a7e"/>
<rect x="448.8" y="294.6" width="64.30000000000001" height="219.60000000000002" fill="none" stroke="#1a1a1a" stroke-width="1.4" stroke-linejoin="round"/>
<line x1="448.8" y1="307.3" x2="513.1" y2="307.3" stroke="#1a1a1a" stroke-width="1.4"/>
<line x1="445.8" y1="504.4" x2="448.8" y2="504.4" stroke="#222" stroke-width="0.9"/>
<text x="442.8" y="506.84999999999997" font-size="9.4" fill="#3a3a3a" stroke="#3a3a3a" text-anchor="end" textLength="4.45" lengthAdjust="spacingAndGlyphs">0</text>
<line x1="445.8" y1="445.5" x2="448.8" y2="445.5" stroke="#222" stroke-width="0.9"/>
<text x="442.8" y="447.95" font-size="9.4" fill="#3a3a3a" stroke="#3a3a3a" text-anchor="end" textLength="13.35" lengthAdjust="spacingAndGlyphs">100</text>
<line x1="445.8" y1="386.4" x2="448.8" y2="386.4" stroke="#222" stroke-width="0.9"/>
<text x="442.8" y="388.84999999999997" font-size="9.4" fill="#3a3a3a" stroke="#3a3a3a" text-anchor="end" textLength="13.35" lengthAdjust="spacingAndGlyphs">200</text>
<line x1="445.8" y1="327.2" x2="448.8" y2="327.2" stroke="#222" stroke-width="0.9"/>
<text x="442.8" y="329.65" font-size="9.4" fill="#3a3a3a" stroke="#3a3a3a" text-anchor="end" textLength="13.35" lengthAdjust="spacingAndGlyphs">300</text>
<line x1="467.1" y1="514.2" x2="467.1" y2="517.2" stroke="#222" stroke-width="0.9"/>
<text x="467.1" y="527.1" font-size="8.9" fill="#3a3a3a" stroke="#3a3a3a" text-anchor="middle" textLength="12.45" lengthAdjust="spacingAndGlyphs">BM</text>
<line x1="495.9" y1="514.2" x2="495.9" y2="517.2" stroke="#222" stroke-width="0.9"/>
<text x="495.9" y="527.1" font-size="8.9" fill="#3a3a3a" stroke="#3a3a3a" text-anchor="middle" textLength="24.56" lengthAdjust="spacingAndGlyphs">cfDNA</text>
<rect x="0.5" y="0.5" width="519" height="549" fill="none" stroke="#000" stroke-width="1.2"/>
</svg>
</body></html>
